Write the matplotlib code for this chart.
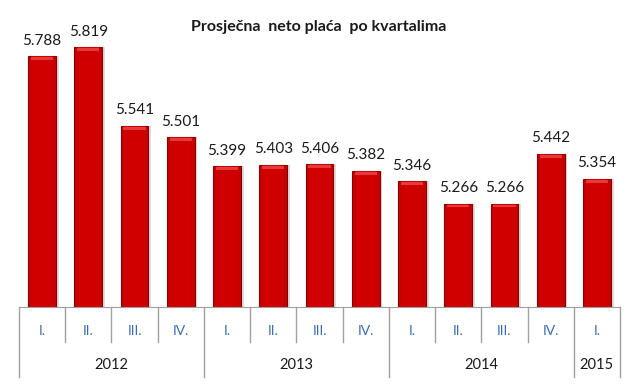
import matplotlib.pyplot as plt
from matplotlib.transforms import blended_transform_factory

quarters = ['I.', 'II.', 'III.', 'IV.', 'I.', 'II.', 'III.', 'IV.',
            'I.', 'II.', 'III.', 'IV.', 'I.']
years = ['2012', '2013', '2014', '2015']
year_counts = [4, 4, 4, 1]
values = [5.788, 5.819, 5.541, 5.501, 5.399, 5.403, 5.406, 5.382,
          5.346, 5.266, 5.266, 5.442, 5.354]
labels = ['5.788', '5.819', '5.541', '5.501', '5.399', '5.403', '5.406',
          '5.382', '5.346', '5.266', '5.266', '5.442', '5.354']

plt.rcParams['font.family'] = ['Lato', 'DejaVu Sans']

W, H = 640, 385
fig = plt.figure(figsize=(6.4, 3.85), dpi=100)
ax = fig.add_axes([19 / W, 1 - 307 / H, 601 / W, 287 / H])

x = list(range(len(values)))
base = 4.9
heights = [v - base for v in values]

# soft shadow, then bar
ax.bar([i + 0.05 for i in x], heights, width=0.62, bottom=base,
       color='#bbbbbb', alpha=0.5, zorder=1)
ax.bar(x, heights, width=0.6, bottom=base, color='#c80000',
       edgecolor='#8a0000', linewidth=0.8, zorder=2)
# inner body slightly brighter, so sides look darker
ax.bar(x, heights, width=0.44, bottom=base, color='#d00000',
       linewidth=0, zorder=3)
# lighter bevel at top of each bar
ax.bar(x, [0.01] * len(x), width=0.48, bottom=[v - 0.014 for v in values],
       color='#e53a3a', linewidth=0, zorder=4)

for i, v in enumerate(values):
    ax.annotate(labels[i], (i, v), xytext=(0, 6), textcoords='offset points',
                ha='center', va='bottom', fontsize=11, color='#1a1a1a')

ax.set_xlim(-0.5, len(values) - 0.5)
ax.set_ylim(base, 5.915)
ax.set_xticks([])
ax.set_yticks([])
for s in ['top', 'right', 'left']:
    ax.spines[s].set_visible(False)
ax.spines['bottom'].set_color('#a0a0a0')

tr = blended_transform_factory(ax.transData, fig.transFigure)
y0 = 1 - 307 / H
yq = 1 - 342 / H
yy = 1 - 377 / H

# year boundaries
bounds = [0]
for c in year_counts:
    bounds.append(bounds[-1] + c)
for i in range(len(values) + 1):
    bottom = yy if i in bounds else yq
    ax.plot([i - 0.5, i - 0.5], [y0, bottom], color='#a0a0a0', lw=1,
            transform=tr, clip_on=False)

for i, q in enumerate(quarters):
    ax.text(i, 1 - 331 / H, q, transform=tr, ha='center', va='center',
            fontsize=10, color='#3a6db0')

for k, yr in enumerate(years):
    mid = (bounds[k] + bounds[k + 1] - 1) / 2
    ax.text(mid, 1 - 365 / H, yr, transform=tr, ha='center', va='center',
            fontsize=10.5, color='#1a1a1a')

fig.text(319 / W, 1 - 27 / H, 'Prosječna  neto plaća  po kvartalima',
         ha='center', va='center', fontsize=11.5, fontweight='bold',
         color='#1a1a1a')

fig.savefig('out.png', dpi=100)
